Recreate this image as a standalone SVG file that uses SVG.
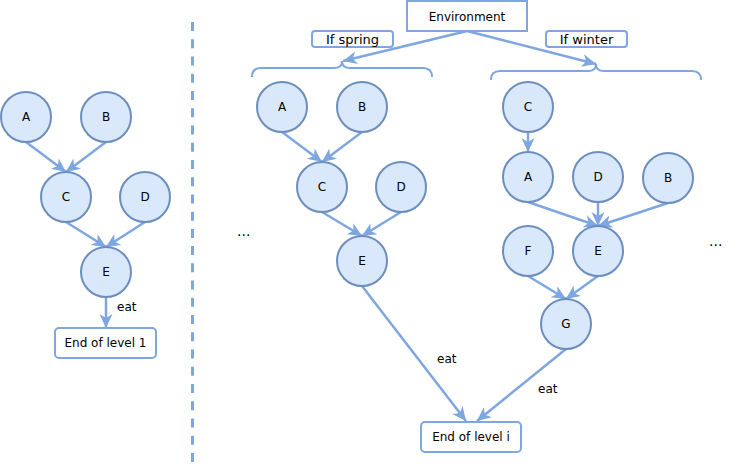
<svg xmlns="http://www.w3.org/2000/svg" width="740" height="466" viewBox="0 0 740 466">
<style>
.n circle{fill:#dae8fc;stroke:#6c8ebf;stroke-width:2}
text{font-family:"DejaVu Sans",Verdana,sans-serif;font-size:12px;fill:#000}
.c{text-anchor:middle}
.box{fill:#fff;stroke:#7EA6E0;stroke-width:2}
.lbl{fill:#fff;stroke:#7EA6E0;stroke-width:2}
.e line{stroke:#7EA6E0;stroke-width:2.5;marker-end:url(#arr)}
.br{fill:none;stroke:#7EA6E0;stroke-width:2}
</style>
<defs>
<marker id="arr" markerUnits="userSpaceOnUse" markerWidth="16" markerHeight="16" viewBox="0 0 16 16" refX="15" refY="8" orient="auto">
<path d="M1,1.5 L15,8 L1,14.5 L5,8 Z" fill="#7EA6E0"/>
</marker>
</defs>
<rect width="740" height="466" fill="#fff"/>
<line x1="192.5" y1="22" x2="192.5" y2="463" stroke="#7EA6E0" stroke-width="3" stroke-dasharray="9 8.24"/>

<g id="connectors" class="e">
<line x1="26" y1="142" x2="66" y2="172"/>
<line x1="106" y1="142" x2="66" y2="172"/>
<line x1="66" y1="222" x2="106" y2="247"/>
<line x1="145" y1="222" x2="106" y2="247"/>
<line x1="106" y1="297" x2="106" y2="328"/>
<line x1="467" y1="31" x2="343" y2="61"/>
<line x1="467" y1="31" x2="596" y2="64"/>
<line x1="282" y1="132" x2="322" y2="162"/>
<line x1="362" y1="132" x2="322" y2="162"/>
<line x1="322" y1="212" x2="362" y2="236"/>
<line x1="401" y1="212" x2="362" y2="236"/>
<line x1="362" y1="286" x2="466" y2="421"/>
<line x1="528" y1="132" x2="528" y2="152"/>
<line x1="528" y1="202" x2="598" y2="226"/>
<line x1="598" y1="202" x2="598" y2="226"/>
<line x1="668" y1="203" x2="598" y2="226"/>
<line x1="528" y1="276" x2="566" y2="299"/>
<line x1="598" y1="276" x2="566" y2="299"/>
<line x1="566" y1="349" x2="477" y2="421"/>
</g>
<g id="edge-labels">
<text x="117" y="311">eat</text>
<text x="437" y="363">eat</text>
<text x="538" y="393">eat</text>
</g>

<g id="braces">
<path class="br" d="M252,77 Q252,68 261,68 L334,68 Q342,68 342,61 Q342,68 350,68 L423,68 Q432,68 432,77"/>
<path class="br" d="M491,80 Q491,71 500,71 L588,71 Q596,71 596,64 Q596,71 604,71 L692,71 Q701,71 701,80"/>
</g>

<g id="environment"><rect class="box" x="407" y="1" width="120" height="30"/><text class="c" x="467" y="21">Environment</text></g>
<g id="if-spring"><rect class="lbl" x="312" y="31" width="81" height="16" rx="3"/><text class="c" x="352.5" y="43.5" style="font-size:13px">If spring</text></g>
<g id="if-winter"><rect class="lbl" x="546" y="31" width="81" height="16" rx="3"/><text class="c" x="586.5" y="43.5" style="font-size:13px">If winter</text></g>

<g id="l1-A" class="n"><circle cx="26" cy="117" r="25"/><text class="c" x="26" y="121">A</text></g>
<g id="l1-B" class="n"><circle cx="106" cy="117" r="25"/><text class="c" x="106" y="121">B</text></g>
<g id="l1-C" class="n"><circle cx="66" cy="197" r="25"/><text class="c" x="66" y="201">C</text></g>
<g id="l1-D" class="n"><circle cx="145" cy="197" r="25"/><text class="c" x="145" y="201">D</text></g>
<g id="l1-E" class="n"><circle cx="106" cy="272" r="25"/><text class="c" x="106" y="276">E</text></g>
<g id="end-1"><rect class="box" x="55" y="328" width="101" height="30" rx="4"/><text class="c" x="105.5" y="347">End of level 1</text></g>

<g id="sp-A" class="n"><circle cx="282" cy="107" r="25"/><text class="c" x="282" y="111">A</text></g>
<g id="sp-B" class="n"><circle cx="362" cy="107" r="25"/><text class="c" x="362" y="111">B</text></g>
<g id="sp-C" class="n"><circle cx="322" cy="187" r="25"/><text class="c" x="322" y="191">C</text></g>
<g id="sp-D" class="n"><circle cx="401" cy="187" r="25"/><text class="c" x="401" y="191">D</text></g>
<g id="sp-E" class="n"><circle cx="362" cy="261" r="25"/><text class="c" x="362" y="265">E</text></g>

<g id="wi-C" class="n"><circle cx="528" cy="107" r="25"/><text class="c" x="528" y="111">C</text></g>
<g id="wi-A" class="n"><circle cx="528" cy="177" r="25"/><text class="c" x="528" y="181">A</text></g>
<g id="wi-D" class="n"><circle cx="598" cy="177" r="25"/><text class="c" x="598" y="181">D</text></g>
<g id="wi-B" class="n"><circle cx="668" cy="178" r="25"/><text class="c" x="668" y="182">B</text></g>
<g id="wi-F" class="n"><circle cx="528" cy="251" r="25"/><text class="c" x="528" y="255">F</text></g>
<g id="wi-E" class="n"><circle cx="598" cy="251" r="25"/><text class="c" x="598" y="255">E</text></g>
<g id="wi-G" class="n"><circle cx="566" cy="324" r="25"/><text class="c" x="566" y="328">G</text></g>

<g id="end-i"><rect class="box" x="421" y="422" width="100" height="30" rx="4"/><text class="c" x="471" y="441">End of level i</text></g>

<g id="ellipses">
<text x="237" y="236" style="font-size:14px">...</text>
<text x="709" y="246" style="font-size:14px">...</text>
</g>
</svg>
